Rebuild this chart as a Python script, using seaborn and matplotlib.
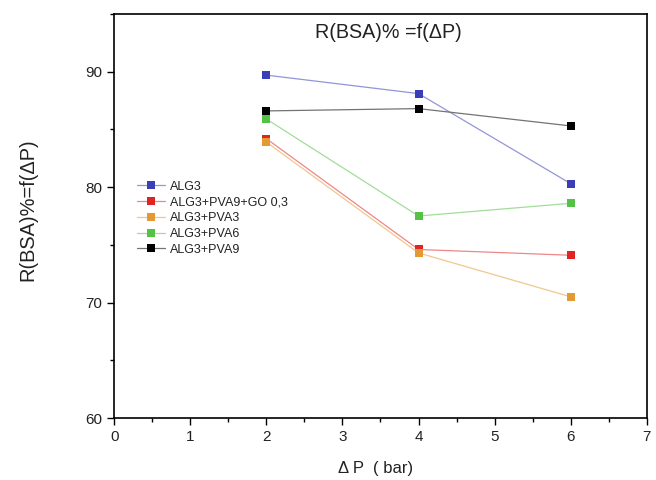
import matplotlib
matplotlib.use("Agg")
import matplotlib.pyplot as plt
import seaborn as sns
import pandas as pd
import matplotlib.colors as mcolors
from matplotlib.ticker import MultipleLocator

pressure = [2, 4, 6]
series_names = ["ALG3", "ALG3+PVA9+GO 0,3", "ALG3+PVA3", "ALG3+PVA6", "ALG3+PVA9"]
alg3 = [89.7, 88.1, 80.3]
alg3_pva9_go = [84.2, 74.6, 74.1]
alg3_pva3 = [83.9, 74.3, 70.5]
alg3_pva6 = [85.9, 77.5, 78.6]
alg3_pva9 = [86.6, 86.8, 85.3]
colors = ["#3a3fb8", "#e02424", "#e39a34", "#55c247", "#000000"]

values = [alg3, alg3_pva9_go, alg3_pva3, alg3_pva6, alg3_pva9]
rows = []
for name, vals in zip(series_names, values):
    for x, y in zip(pressure, vals):
        rows.append({"dP": x, "R": y, "series": name})
df = pd.DataFrame(rows)

sns.set_style("ticks")
plt.rcParams["font.family"] = ["Liberation Sans", "DejaVu Sans"]

fig = plt.figure(figsize=(6.56, 4.8), dpi=100)
ax = fig.add_axes([0.174, 0.129, 0.812, 0.842])

sns.lineplot(data=df, x="dP", y="R", hue="series", hue_order=series_names,
             palette=colors, marker="s", markersize=6, markeredgewidth=0,
             linewidth=0.9, ax=ax, legend=False)


def lighten(c, f=0.45):
    r, g, b = mcolors.to_rgb(c)
    return (r + (1 - r) * f, g + (1 - g) * f, b + (1 - b) * f)


for line in ax.get_lines():
    c = line.get_color()
    line.set_color(lighten(c))
    line.set_markerfacecolor(c)
    line.set_markeredgecolor(c)

lines = ax.get_lines()

ax.set_xlim(0, 7)
ax.set_ylim(60, 95)
ax.xaxis.set_major_locator(MultipleLocator(1))
ax.xaxis.set_minor_locator(MultipleLocator(0.5))
ax.yaxis.set_major_locator(MultipleLocator(10))
ax.yaxis.set_minor_locator(MultipleLocator(5))
ax.tick_params(axis="both", which="major", direction="out", length=5, width=1,
               labelsize=11, colors="black", labelcolor="#222222")
ax.tick_params(axis="both", which="minor", direction="out", length=3, width=1, colors="black")
for s in ax.spines.values():
    s.set_linewidth(1.2)
    s.set_color("black")
    s.set_visible(True)

ax.set_xlabel("\u0394 P  ( bar)", fontsize=12, color="#222222")
ax.xaxis.set_label_coords(0.49, -0.105)
ax.set_ylabel("R(BSA)%=f(\u0394P)", fontsize=14.4, color="#222222")
ax.yaxis.set_label_coords(-0.145, 0.515)
ax.text(0.514, 0.955, "R(BSA)% =f(\u0394P)", transform=ax.transAxes,
        ha="center", va="center", fontsize=14.2, color="#222222")

leg = ax.legend(lines, series_names, loc="upper left", bbox_to_anchor=(0.022, 0.615),
                frameon=False, fontsize=9, handlelength=2.2, labelspacing=0.3,
                handletextpad=0.4)
for t in leg.get_texts():
    t.set_color("#222222")

fig.savefig("out.png", dpi=100)
